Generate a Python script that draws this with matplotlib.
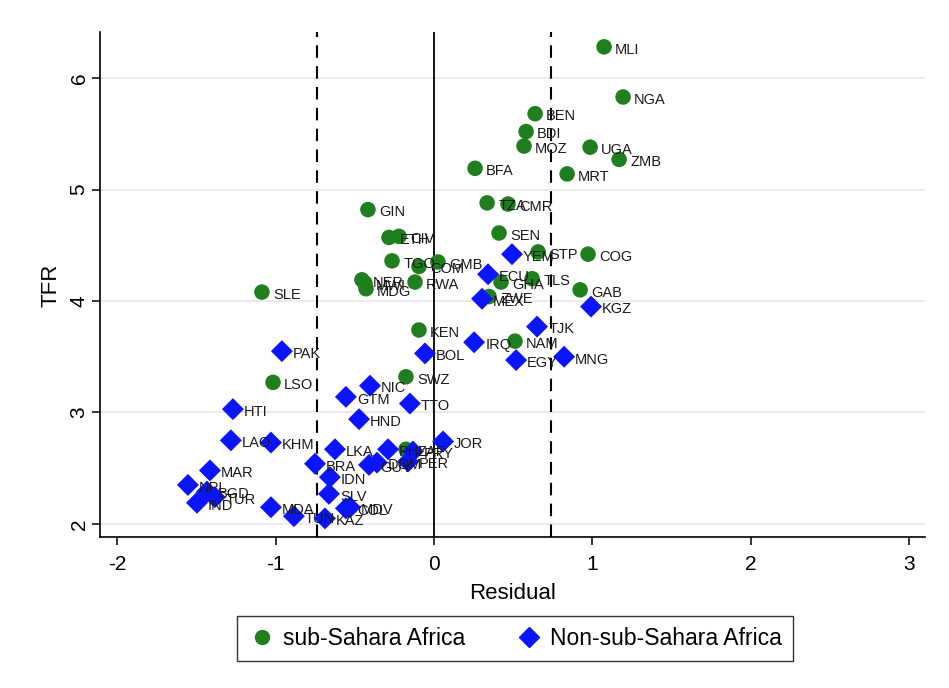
import matplotlib
matplotlib.use("Agg")
import matplotlib.pyplot as plt
from matplotlib.lines import Line2D

plt.rcParams['font.family'] = ['Liberation Sans', 'DejaVu Sans']
plt.rcParams['axes.unicode_minus'] = False

# sub-Saharan Africa
ssa_codes = ["MLI", "NGA", "BEN", "BDI", "MOZ", "UGA", "ZMB", "BFA", "MRT", "TZA",
             "CMR", "GIN", "CIV", "ETH", "SEN", "STP", "COG", "TGO", "COM", "GMB",
             "NER", "MWI", "MDG", "RWA", "SLE", "GHA", "TLS", "GAB", "ZWE", "KEN",
             "NAM", "SWZ", "LSO", "ZAF"]
ssa_resid = [1.073, 1.193, 0.638, 0.581, 0.568, 0.985, 1.168, 0.259, 0.840, 0.335,
             0.467, -0.417, -0.221, -0.284, 0.410, 0.657, 0.972, -0.265, -0.095, 0.025,
             -0.455, -0.436, -0.429, -0.120, -1.086, 0.423, 0.619, 0.922, 0.347, -0.095,
             0.511, -0.177, -1.016, -0.177]
ssa_tfr = [6.28, 5.83, 5.68, 5.52, 5.39, 5.38, 5.27, 5.19, 5.14, 4.88,
           4.87, 4.82, 4.58, 4.57, 4.61, 4.44, 4.42, 4.36, 4.31, 4.35,
           4.19, 4.16, 4.11, 4.17, 4.08, 4.17, 4.20, 4.10, 4.04, 3.74,
           3.64, 3.32, 3.27, 2.67]

# non-sub-Saharan Africa
nssa_codes = ["YEM", "ECU", "MEX", "KGZ", "TJK", "IRQ", "BOL", "EGY", "MNG", "PAK",
              "NIC", "GTM", "TTO", "HTI", "HND", "JOR", "LAO", "KHM", "LKA", "BRA",
              "IDN", "PHL", "PRY", "PER", "DOM", "GUY", "MAR", "NPL", "BGD", "TUR",
              "IND", "MDA", "TUN", "KAZ", "SLV", "COL", "MDV"]
nssa_resid = [0.492, 0.341, 0.303, 0.991, 0.650, 0.253, -0.057, 0.518, 0.821, -0.960,
              -0.404, -0.556, -0.152, -1.269, -0.473, 0.057, -1.282, -1.029, -0.625, -0.751,
              -0.657, -0.290, -0.133, -0.164, -0.360, -0.410, -1.414, -1.553, -1.433, -1.383,
              -1.496, -1.029, -0.884, -0.688, -0.663, -0.556, -0.530]
nssa_tfr = [4.42, 4.24, 4.02, 3.95, 3.77, 3.63, 3.53, 3.47, 3.50, 3.55,
            3.24, 3.14, 3.08, 3.03, 2.94, 2.74, 2.75, 2.73, 2.67, 2.54,
            2.42, 2.67, 2.65, 2.56, 2.55, 2.53, 2.48, 2.35, 2.29, 2.24,
            2.19, 2.15, 2.07, 2.05, 2.27, 2.14, 2.15]

x_ticks = [-2, -1, 0, 1, 2, 3]
y_ticks = [2, 3, 4, 5, 6]
cutoff = 0.74

green = "#1f7f1f"
blue = "#0a14ff"

fig = plt.figure(figsize=(9.49, 6.88), dpi=100)
ax = fig.add_axes([0.105, 0.219, 0.870, 0.734])

ax.set_xlim(-2.11, 3.10)
ax.set_ylim(1.88, 6.41)
ax.set_xticks(x_ticks)
ax.set_yticks(y_ticks)
ax.set_yticklabels([str(v) for v in y_ticks], rotation=90, va='center')
ax.grid(axis='y', color='#e6e6e6', linewidth=1.2)
ax.set_axisbelow(True)
for s in ['top', 'right']:
    ax.spines[s].set_visible(False)
for s in ['left', 'bottom']:
    ax.spines[s].set_linewidth(1.2)
ax.tick_params(axis='both', labelsize=15, length=6, width=1.1, direction='out')
ax.tick_params(axis='x', pad=7)
ax.tick_params(axis='y', pad=2)

ax.axvline(0, color='black', linewidth=1.3, zorder=1)
ax.axvline(-cutoff, color='black', linewidth=1.5, linestyle=(0, (6, 4)), zorder=1)
ax.axvline(cutoff, color='black', linewidth=1.5, linestyle=(0, (6, 4)), zorder=1)

ax.scatter(ssa_resid, ssa_tfr, s=125, marker='o', color=green, edgecolors='none', zorder=3)
ax.scatter(nssa_resid, nssa_tfr, s=125, marker='D', color=blue, edgecolors='none', zorder=3)

for c, x, y in zip(ssa_codes, ssa_resid, ssa_tfr):
    ax.annotate(c, (x, y), xytext=(8, -2), textcoords='offset points',
                ha='left', va='center', fontsize=10.5, color='#1a1a1a', zorder=4)
for c, x, y in zip(nssa_codes, nssa_resid, nssa_tfr):
    ax.annotate(c, (x, y), xytext=(8, -2), textcoords='offset points',
                ha='left', va='center', fontsize=10.5, color='#1a1a1a', zorder=4)

ax.set_xlabel("Residual", fontsize=16, labelpad=6)
ax.set_ylabel("TFR", fontsize=16, labelpad=6)

handles = [Line2D([], [], marker='o', linestyle='none', color=green, markersize=10),
           Line2D([], [], marker='D', linestyle='none', color=blue, markersize=10)]
leg = fig.legend(handles, ["sub-Sahara Africa", "Non-sub-Sahara Africa"],
                 loc='center', bbox_to_anchor=(0.543, 0.072), ncol=2, fontsize=16.5,
                 frameon=True, fancybox=False, edgecolor='black', handletextpad=0.3,
                 handlelength=1.2, columnspacing=2.2, borderpad=0.5)
leg.get_frame().set_linewidth(1.0)

fig.savefig("out.png", dpi=100)
